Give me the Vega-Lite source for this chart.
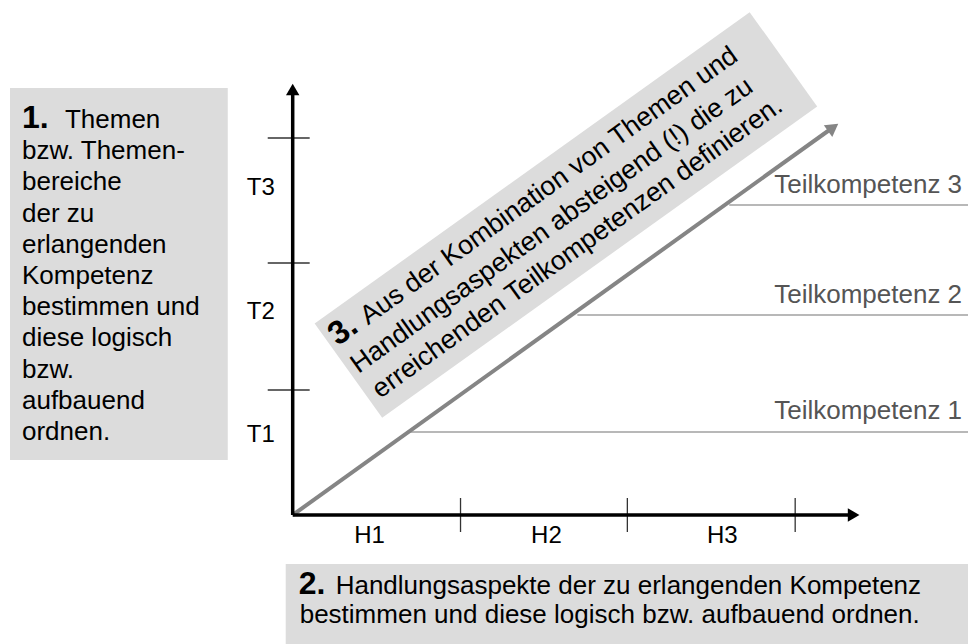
{
  "$schema": "https://vega.github.io/schema/vega-lite/v6.json",
  "width": 969,
  "height": 644,
  "autosize": {"type": "fit", "contains": "padding"},
  "padding": 0,
  "background": "white",
  "config": {"view": {"stroke": null}, "text": {"font": "Liberation Sans"}},
  "datasets": {
    "boxes": [
      {"x": 10, "x2": 228, "y": 88, "y2": 460},
      {"x": 286, "x2": 969, "y": 564, "y2": 644}
    ],
    "box3": [{"x": 566.5, "y": 215}],
    "axes": [
      {"x": 293, "x2": 293, "y": 515, "y2": 92},
      {"x": 293, "x2": 854, "y": 515, "y2": 515}
    ],
    "ticks": [
      {"x": 268, "x2": 310, "y": 138, "y2": 138},
      {"x": 268, "x2": 310, "y": 263, "y2": 263},
      {"x": 268, "x2": 310, "y": 390, "y2": 390},
      {"x": 461, "x2": 461, "y": 498, "y2": 532},
      {"x": 628, "x2": 628, "y": 498, "y2": 532},
      {"x": 796, "x2": 796, "y": 498, "y2": 532}
    ],
    "diag": [{"x": 293, "x2": 833, "y": 515, "y2": 128}],
    "teil": [
      {"x": 410, "x2": 969, "y": 432, "y2": 432},
      {"x": 578, "x2": 969, "y": 315, "y2": 315},
      {"x": 730, "x2": 969, "y": 205, "y2": 205}
    ],
    "headY": [{"x": 293, "y": 89.5}],
    "headX": [{"x": 854.5, "y": 515}],
    "headD": [{"x": 834, "y": 127.4}],
    "box1text": [
      {"x": 65, "y": 128, "text": "Themen"},
      {"x": 22, "y": 159.2, "text": "bzw. Themen-"},
      {"x": 22, "y": 190.4, "text": "bereiche"},
      {"x": 22, "y": 221.6, "text": "der zu"},
      {"x": 22, "y": 252.8, "text": "erlangenden"},
      {"x": 22, "y": 284, "text": "Kompetenz"},
      {"x": 22, "y": 315.2, "text": "bestimmen und"},
      {"x": 22, "y": 346.4, "text": "diese logisch"},
      {"x": 22, "y": 377.6, "text": "bzw."},
      {"x": 22, "y": 408.8, "text": "aufbauend"},
      {"x": 22, "y": 440, "text": "ordnen."}
    ],
    "box2text": [
      {"x": 336, "y": 594, "text": "Handlungsaspekte der zu erlangenden Kompetenz"},
      {"x": 300, "y": 623, "text": "bestimmen und diese logisch bzw. aufbauend ordnen."}
    ],
    "nums": [
      {"x": 22, "y": 128, "text": "1."},
      {"x": 299, "y": 594, "text": "2."}
    ],
    "axlabels": [
      {"x": 261, "y": 188, "text": "T3"},
      {"x": 261, "y": 312, "text": "T2"},
      {"x": 261, "y": 435, "text": "T1"},
      {"x": 370, "y": 536, "text": "H1"},
      {"x": 547, "y": 536, "text": "H2"},
      {"x": 723, "y": 536, "text": "H3"}
    ],
    "teillabels": [
      {"x": 775, "y": 193, "text": "Teilkompetenz 3"},
      {"x": 775, "y": 303, "text": "Teilkompetenz 2"},
      {"x": 775, "y": 419, "text": "Teilkompetenz 1"}
    ],
    "box3text": [
      {"x": 368.4, "y": 325.4, "text": "Aus der Kombination von Themen und"},
      {"x": 358.8, "y": 374.0, "text": "Handlungsaspekten absteigend (!) die zu"},
      {"x": 380.5, "y": 398.9, "text": "erreichenden Teilkompetenzen definieren."}
    ],
    "box3num": [{"x": 338, "y": 346.5, "text": "3."}]
  },
  "encoding": {
    "x": {"field": "x", "type": "quantitative", "axis": null, "scale": {"domain": [0, 969], "nice": false, "zero": false}},
    "y": {"field": "y", "type": "quantitative", "axis": null, "scale": {"domain": [0, 644], "nice": false, "zero": false, "reverse": true}}
  },
  "layer": [
    {
      "data": {"name": "boxes"},
      "mark": {"type": "rect", "color": "#dcdcdc"},
      "encoding": {"x2": {"field": "x2"}, "y2": {"field": "y2"}}
    },
    {
      "data": {"name": "box3"},
      "mark": {"type": "point", "filled": true, "color": "#dcdcdc", "opacity": 1, "strokeWidth": 0,
        "shape": "M-1,-0.2168L1,-0.2168L1,0.2168L-1,0.2168Z", "size": 286225, "angle": -35.6}
    },
    {
      "data": {"name": "teil"},
      "mark": {"type": "rule", "color": "#a0a0a0", "strokeWidth": 1.5},
      "encoding": {"x2": {"field": "x2"}, "y2": {"field": "y2"}}
    },
    {
      "data": {"name": "diag"},
      "mark": {"type": "rule", "color": "#858585", "strokeWidth": 4},
      "encoding": {"x2": {"field": "x2"}, "y2": {"field": "y2"}}
    },
    {
      "data": {"name": "headD"},
      "mark": {"type": "point", "shape": "triangle-up", "filled": true, "opacity": 1, "color": "#858585", "size": 210, "angle": 54.4}
    },
    {
      "data": {"name": "ticks"},
      "mark": {"type": "rule", "color": "#333333", "strokeWidth": 1.3},
      "encoding": {"x2": {"field": "x2"}, "y2": {"field": "y2"}}
    },
    {
      "data": {"name": "axes"},
      "mark": {"type": "rule", "color": "#000000", "strokeWidth": 3.5},
      "encoding": {"x2": {"field": "x2"}, "y2": {"field": "y2"}}
    },
    {
      "data": {"name": "headY"},
      "mark": {"type": "point", "shape": "triangle-up", "filled": true, "opacity": 1, "color": "#000000", "size": 180, "angle": 0}
    },
    {
      "data": {"name": "headX"},
      "mark": {"type": "point", "shape": "triangle-up", "filled": true, "opacity": 1, "color": "#000000", "size": 180, "angle": 90}
    },
    {
      "data": {"name": "box1text"},
      "mark": {"type": "text", "align": "left", "baseline": "alphabetic", "fontSize": 26, "color": "#000000"},
      "encoding": {"text": {"field": "text"}}
    },
    {
      "data": {"name": "box2text"},
      "mark": {"type": "text", "align": "left", "baseline": "alphabetic", "fontSize": 26, "color": "#000000"},
      "encoding": {"text": {"field": "text"}}
    },
    {
      "data": {"name": "nums"},
      "mark": {"type": "text", "align": "left", "baseline": "alphabetic", "fontSize": 32, "fontWeight": "bold", "color": "#000000"},
      "encoding": {"text": {"field": "text"}}
    },
    {
      "data": {"name": "axlabels"},
      "mark": {"type": "text", "align": "center", "baseline": "middle", "fontSize": 24, "color": "#000000"},
      "encoding": {"text": {"field": "text"}}
    },
    {
      "data": {"name": "teillabels"},
      "mark": {"type": "text", "align": "left", "baseline": "alphabetic", "fontSize": 26, "color": "#555555"},
      "encoding": {"text": {"field": "text"}}
    },
    {
      "data": {"name": "box3text"},
      "mark": {"type": "text", "align": "left", "baseline": "alphabetic", "fontSize": 26.8, "angle": -35.6, "color": "#000000"},
      "encoding": {"text": {"field": "text"}}
    },
    {
      "data": {"name": "box3num"},
      "mark": {"type": "text", "align": "left", "baseline": "alphabetic", "fontSize": 33, "fontWeight": "bold", "angle": -35.6, "color": "#000000"},
      "encoding": {"text": {"field": "text"}}
    }
  ]
}
